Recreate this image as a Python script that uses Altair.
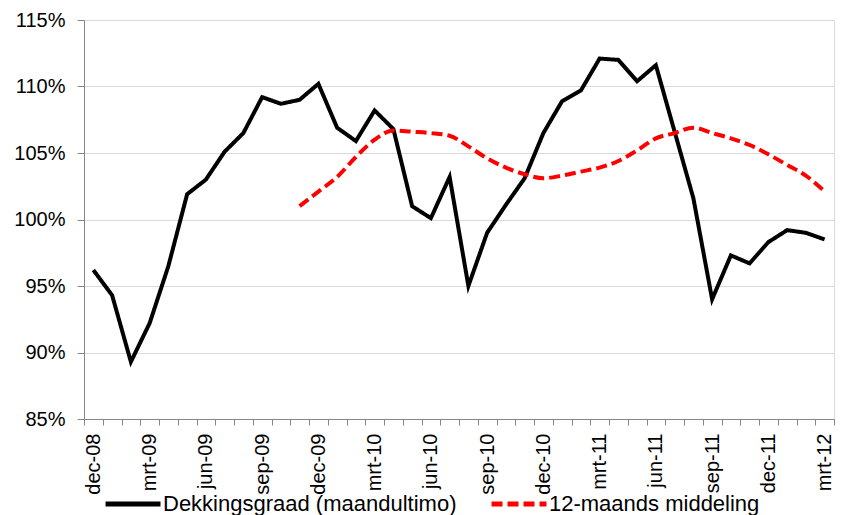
import altair as alt
import pandas as pd

months = [
    "dec-08",
    "jan-09", "feb-09", "mrt-09", "apr-09", "mei-09", "jun-09",
    "jul-09", "aug-09", "sep-09", "okt-09", "nov-09", "dec-09",
    "jan-10", "feb-10", "mrt-10", "apr-10", "mei-10", "jun-10",
    "jul-10", "aug-10", "sep-10", "okt-10", "nov-10", "dec-10",
    "jan-11", "feb-11", "mrt-11", "apr-11", "mei-11", "jun-11",
    "jul-11", "aug-11", "sep-11", "okt-11", "nov-11", "dec-11",
    "jan-12", "feb-12", "mrt-12",
]

dekkingsgraad = [
    96.2, 94.3, 89.3, 92.2, 96.5, 101.9, 103.0, 105.1, 106.5, 109.2,
    108.7, 109.0, 110.2, 106.9, 105.9, 108.2, 106.8, 101.0, 100.1, 103.2,
    95.0, 99.0, 101.1, 103.1, 106.5, 108.9, 109.7, 112.1, 112.0, 110.4,
    111.6, 106.6, 101.6, 94.0, 97.3, 96.7, 98.3, 99.2, 99.0, 98.5,
]

middeling = [None] * 11 + [
    101.0, 102.1, 103.2, 104.7, 106.0, 106.7, 106.6, 106.5, 106.3, 105.5,
    104.6, 103.9, 103.4, 103.1, 103.3, 103.6, 103.9, 104.4, 105.2, 106.1,
    106.5, 106.9, 106.5, 106.1, 105.6, 104.9, 104.1, 103.3, 102.1,
]

series = ["Dekkingsgraad (maandultimo)", "12-maands middeling"]
y_ticks = [85, 90, 95, 100, 105, 110, 115]

rows = []
for m, v in zip(months, dekkingsgraad):
    rows.append({"maand": m, "waarde": v, "reeks": series[0]})
for m, v in zip(months, middeling):
    if v is not None:
        rows.append({"maand": m, "waarde": v, "reeks": series[1]})
df = pd.DataFrame(rows)

FONT = "Liberation Sans"
AXIS_COL = "#868686"

legend = alt.Legend(
    title=None,
    orient="none",
    direction="horizontal",
    legendX=19,
    legendY=454,
    symbolType="stroke",
    symbolSize=3025,
    symbolStrokeWidth=5,
    labelFontSize=22,
    labelFont=FONT,
    labelColor="#000000",
    labelOffset=0,
    labelLimit=600,
    columnPadding=24,
    padding=0,
)

base = alt.Chart(df).encode(
    x=alt.X(
        "maand:O",
        sort=months,
        bandPosition=0.5,
        title=None,
        scale=alt.Scale(type="band", paddingInner=0, paddingOuter=0),
        axis=alt.Axis(
            tickBand="extent",
            grid=False,
            ticks=True,
            tickSize=6,
            tickColor=AXIS_COL,
            domainColor=AXIS_COL,
            labelAngle=270,
            labelPadding=8,
            labelFontSize=20,
            labelFont=FONT,
            labelColor="#000000",
            labelExpr="test(/^(dec|mrt|jun|sep)/, datum.label) ? datum.label : ''",
        ),
    ),
    y=alt.Y(
        "waarde:Q",
        title=None,
        scale=alt.Scale(domain=[85, 115], nice=False, zero=False),
        axis=alt.Axis(
            values=y_ticks,
            grid=True,
            gridColor="#d9d9d9",
            tickSize=7,
            tickColor=AXIS_COL,
            domainColor=AXIS_COL,
            labelPadding=12,
            labelFontSize=20,
            labelFont=FONT,
            labelColor="#000000",
            labelExpr="datum.value + '%'",
        ),
    ),
    color=alt.Color(
        "reeks:N",
        scale=alt.Scale(domain=series, range=["#000000", "#ff0000"]),
        legend=legend,
    ),
    strokeDash=alt.StrokeDash(
        "reeks:N",
        scale=alt.Scale(domain=series, range=[[1, 0], [11, 5]]),
        legend=legend,
    ),
)

black = base.transform_filter(alt.datum.reeks == series[0]).mark_line(strokeWidth=4)
red = base.transform_filter(alt.datum.reeks == series[1]).mark_line(
    strokeWidth=4, interpolate="monotone"
)

chart = (
    alt.layer(black, red)
    .properties(
        width=750,
        height=399,
        autosize=alt.AutoSizeParams(type="none"),
        padding={"left": 76, "top": 12, "right": 5, "bottom": 100},
    )
    .configure_view(stroke=None)
    .configure(font=FONT)
)

chart.save("out.html", embed_options={"renderer": "svg", "actions": False})
